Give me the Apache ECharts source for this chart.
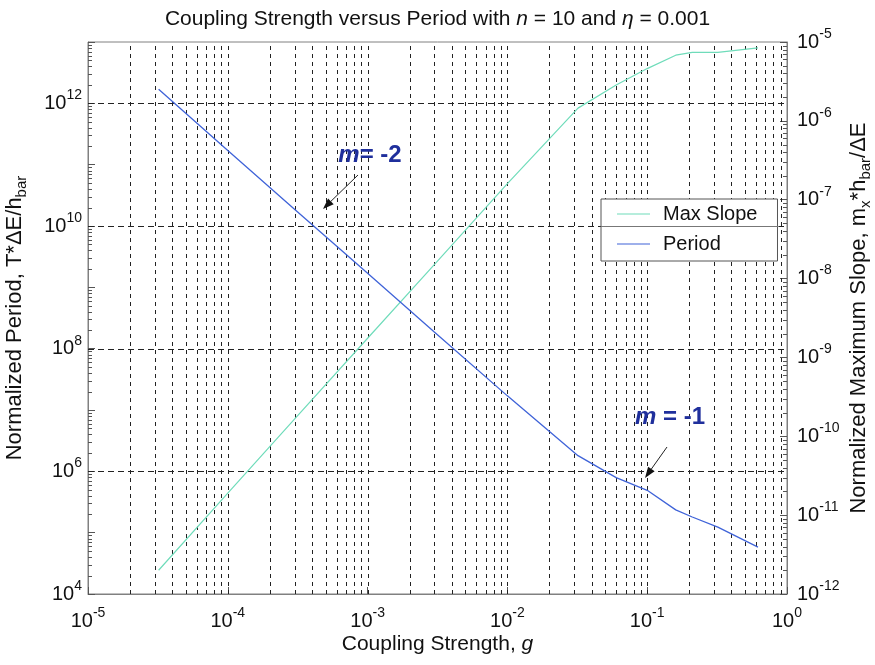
<!DOCTYPE html>
<html>
<head>
<meta charset="utf-8">
<script src="https://cdn.jsdelivr.net/npm/echarts@6/dist/echarts.min.js"></script>
<style>
  html, body { margin: 0; padding: 0; background: #fff; }
  #chart { width: 875px; height: 665px; }
</style>
</head>
<body>
<div id="chart"></div>
<script>
// Coupling strength g (x) and the two computed quantities
const couplingStrength = [3.2e-5, 1e-4, 3e-4, 1e-3, 3e-3, 1e-2, 3.2e-2, 6e-2, 1e-1, 1.6e-1, 2.1e-1, 3.2e-1, 6.2e-1];
const normalizedPeriod = [1.7e12, 1.7e11, 1.87e10, 1.7e9, 1.87e8, 1.7e7, 1.8e6, 7.9e5, 4.9e5, 2.35e5, 1.8e5, 1.23e5, 5.8e4];
const maxSlope = [2.0e-12, 1.9e-11, 1.65e-10, 1.75e-9, 1.5e-8, 1.6e-7, 1.45e-6, 2.85e-6, 4.6e-6, 6.8e-6, 7.4e-6, 7.4e-6, 8.4e-6];

// Axis ranges (decade exponents)
const xDecades = [-5, 0];
const periodDecades = [4, 13];
const slopeDecades = [-12, -5];
const periodGridExponents = [6, 8, 10, 12];
const minorMultipliers = [2, 3, 4, 5, 6, 7, 8, 9];

const FONT = '"Liberation Sans", Arial, Helvetica, sans-serif';
const TEXT = '#111';

const exponentOf = v => Math.round(Math.log10(v));
const powerRich = {
  b: { fontSize: 20, lineHeight: 22, fontFamily: FONT, color: TEXT },
  s: { fontSize: 14, lineHeight: 14, padding: [0, 0, 16, 0], fontFamily: FONT, color: TEXT }
};
const powerLabel = e => '{b|10}{s|' + e + '}';

// Gridline / minor tick positions
const xGridValues = [];
for (let d = xDecades[0]; d < xDecades[1]; d++) {
  [1].concat(minorMultipliers).forEach(k => {
    if (!(k === 1 && d === xDecades[0])) xGridValues.push(k * Math.pow(10, d));
  });
}
const periodMinor = [];
for (let d = periodDecades[0]; d < periodDecades[1]; d++) {
  minorMultipliers.forEach(k => periodMinor.push(k * Math.pow(10, d)));
}
const slopeMinor = [];
for (let d = slopeDecades[0]; d < slopeDecades[1]; d++) {
  minorMultipliers.forEach(k => slopeMinor.push(k * Math.pow(10, d)));
}

const xMin = Math.pow(10, xDecades[0]), xMax = Math.pow(10, xDecades[1]);
const pMin = Math.pow(10, periodDecades[0]), pMax = Math.pow(10, periodDecades[1]);
const sMin = Math.pow(10, slopeDecades[0]), sMax = Math.pow(10, slopeDecades[1]);
const crisp = v => Math.round(v) + 0.5;

const chart = echarts.init(document.getElementById('chart'), null, { renderer: 'canvas' });

const nameStyle = {
  fontSize: 22, color: TEXT, fontFamily: FONT,
  rich: { sub: { fontSize: 15, padding: [13, 0, 0, 0], color: TEXT, fontFamily: FONT } }
};

const option = {
  animation: false,
  backgroundColor: '#fff',
  textStyle: { fontFamily: FONT },
  title: {
    text: 'Coupling Strength versus Period with {i|n} = 10 and {i|η} = 0.001',
    left: 'center',
    top: 4,
    textStyle: {
      fontSize: 21, fontWeight: 'normal', color: TEXT, fontFamily: FONT,
      rich: { i: { fontSize: 21, fontStyle: 'italic', color: TEXT, fontFamily: FONT } }
    }
  },
  grid: {
    left: 88, right: 88, top: 42, bottom: 71,
    show: true, borderColor: '#808080', borderWidth: 1,
    outerBoundsMode: 'none', containLabel: false
  },
  legend: {
    data: ['Max Slope', 'Period'],
    orient: 'vertical',
    left: 601, top: 199,
    icon: 'rect',
    itemWidth: 33, itemHeight: 1,
    itemGap: 0,
    padding: [0, 20, 2, 16],
    backgroundColor: '#fff',
    borderColor: '#555', borderWidth: 1,
    textStyle: { fontSize: 20, lineHeight: 30, color: TEXT, fontFamily: FONT, padding: [0, 0, 0, 8] }
  },
  xAxis: {
    type: 'log', logBase: 10, min: xMin, max: xMax,
    axisLine: { show: true, lineStyle: { color: '#808080', width: 1 } },
    axisTick: { show: true, inside: true, length: 7, lineStyle: { color: '#555' } },
    axisLabel: {
      margin: 16, showMinLabel: true, showMaxLabel: true,
      formatter: v => powerLabel(exponentOf(v)),
      rich: powerRich
    },
    splitLine: { show: false },
    minorTick: { show: false },
    name: 'Coupling Strength, {i|g}',
    nameLocation: 'middle', nameGap: 40, nameMoveOverlap: false,
    nameTextStyle: {
      fontSize: 21, color: TEXT, fontFamily: FONT,
      rich: { i: { fontSize: 21, fontStyle: 'italic', color: TEXT, fontFamily: FONT } }
    }
  },
  yAxis: [
    {
      type: 'log', logBase: 10, min: pMin, max: pMax, position: 'left',
      axisLine: { show: true, lineStyle: { color: '#808080', width: 1 } },
      axisTick: { show: true, inside: true, length: 7, lineStyle: { color: '#555' } },
      axisLabel: {
        margin: 6, showMinLabel: true, showMaxLabel: true,
        formatter: v => {
          const e = exponentOf(v);
          return (e % 2 === 0 && e <= 12) ? powerLabel(e) : '';
        },
        rich: powerRich
      },
      splitLine: { show: false },
      name: 'Normalized Period, T*ΔE/h{sub|bar}',
      nameLocation: 'middle', nameRotate: 90, nameGap: 59, nameMoveOverlap: false,
      nameTextStyle: nameStyle
    },
    {
      type: 'log', logBase: 10, min: sMin, max: sMax, position: 'right',
      axisLine: { show: true, lineStyle: { color: '#808080', width: 1 } },
      axisTick: { show: true, inside: true, length: 7, lineStyle: { color: '#555' } },
      axisLabel: {
        margin: 10, showMinLabel: true, showMaxLabel: true,
        formatter: v => powerLabel(exponentOf(v)),
        rich: powerRich
      },
      splitLine: { show: false },
      name: 'Normalized Maximum Slope, m{sub|x}*h{sub|bar}/ΔE',
      nameLocation: 'middle', nameRotate: 90, nameGap: 58, nameMoveOverlap: false,
      nameTextStyle: nameStyle
    }
  ],
  series: [
    {
      name: 'xGrid', type: 'custom', xAxisIndex: 0, yAxisIndex: 0, z: 1, silent: true,
      data: xGridValues.map(v => [v, pMin]),
      renderItem: (params, api) => {
        const x = api.value(0);
        const top = api.coord([x, pMax]);
        const bot = api.coord([x, pMin]);
        return {
          type: 'line',
          shape: { x1: crisp(bot[0]), y1: bot[1], x2: crisp(top[0]), y2: top[1] },
          style: { stroke: '#222', lineWidth: 1, lineDash: [4, 4] }
        };
      }
    },
    {
      name: 'yGrid', type: 'custom', xAxisIndex: 0, yAxisIndex: 0, z: 1, silent: true,
      data: periodGridExponents.map(e => [xMin, Math.pow(10, e)]),
      renderItem: (params, api) => {
        const y = api.value(1);
        const l = api.coord([xMin, y]);
        const r = api.coord([xMax, y]);
        return {
          type: 'line',
          shape: { x1: l[0], y1: crisp(l[1]), x2: r[0], y2: crisp(r[1]) },
          style: { stroke: '#222', lineWidth: 1, lineDash: [6, 4] }
        };
      }
    },
    {
      name: 'periodMinorTicks', type: 'custom', xAxisIndex: 0, yAxisIndex: 0, z: 1, silent: true,
      data: periodMinor.map(v => [xMin, v]),
      renderItem: (params, api) => {
        const p = api.coord([xMin, api.value(1)]);
        return {
          type: 'line',
          shape: { x1: p[0], y1: crisp(p[1]), x2: p[0] + 4, y2: crisp(p[1]) },
          style: { stroke: '#555', lineWidth: 1 }
        };
      }
    },
    {
      name: 'slopeMinorTicks', type: 'custom', xAxisIndex: 0, yAxisIndex: 1, z: 1, silent: true,
      data: slopeMinor.map(v => [xMax, v]),
      renderItem: (params, api) => {
        const p = api.coord([xMax, api.value(1)]);
        return {
          type: 'line',
          shape: { x1: p[0], y1: crisp(p[1]), x2: p[0] - 4, y2: crisp(p[1]) },
          style: { stroke: '#555', lineWidth: 1 }
        };
      }
    },
    {
      name: 'Max Slope', type: 'line', xAxisIndex: 0, yAxisIndex: 1, z: 3,
      data: couplingStrength.map((g, i) => [g, maxSlope[i]]),
      showSymbol: false, symbol: 'none',
      color: '#6fdcba',
      lineStyle: { color: '#6fdcba', width: 1.2 }
    },
    {
      name: 'Period', type: 'line', xAxisIndex: 0, yAxisIndex: 0, z: 3,
      data: couplingStrength.map((g, i) => [g, normalizedPeriod[i]]),
      showSymbol: false, symbol: 'none',
      color: '#3f63d8',
      lineStyle: { color: '#3f63d8', width: 1.3 }
    }
  ]
};

chart.setOption(option);

// Annotations: slope labels with arrows, and the legend divider
function arrow(x1, y1, x2, y2) {
  const dx = x2 - x1, dy = y2 - y1, len = Math.hypot(dx, dy);
  const ux = dx / len, uy = dy / len, hl = 11, hw = 4;
  const bx = x2 - ux * hl, by = y2 - uy * hl;
  return [
    { type: 'line', z: 20, shape: { x1: x1, y1: y1, x2: bx, y2: by }, style: { stroke: '#222', lineWidth: 1 } },
    { type: 'polygon', z: 20, shape: { points: [[x2, y2], [bx - uy * hw, by + ux * hw], [bx + uy * hw, by - ux * hw]] }, style: { fill: '#111' } }
  ];
}
function slopeText(x, y, str) {
  return {
    type: 'text', z: 20, x: x, y: y,
    style: {
      text: '{m|m}{r|' + str + '}',
      align: 'center', verticalAlign: 'middle',
      rich: {
        m: { fontSize: 24, fontWeight: 'bold', fontStyle: 'italic', fill: '#1f2f9c', fontFamily: FONT },
        r: { fontSize: 24, fontWeight: 'bold', fill: '#1f2f9c', fontFamily: FONT }
      }
    }
  };
}
const dividerY = crisp(chart.convertToPixel({ yAxisIndex: 0 }, 1e10));
chart.setOption({
  graphic: [
    slopeText(370, 155, '= -2'),
    ...arrow(358, 175, 323, 209),
    slopeText(670, 417, ' = -1'),
    ...arrow(667, 447, 645, 478),
    { type: 'line', z: 30, shape: { x1: 601, y1: dividerY, x2: 779, y2: dividerY }, style: { stroke: '#777', lineWidth: 1 } }
  ]
});
</script>
</body>
</html>
